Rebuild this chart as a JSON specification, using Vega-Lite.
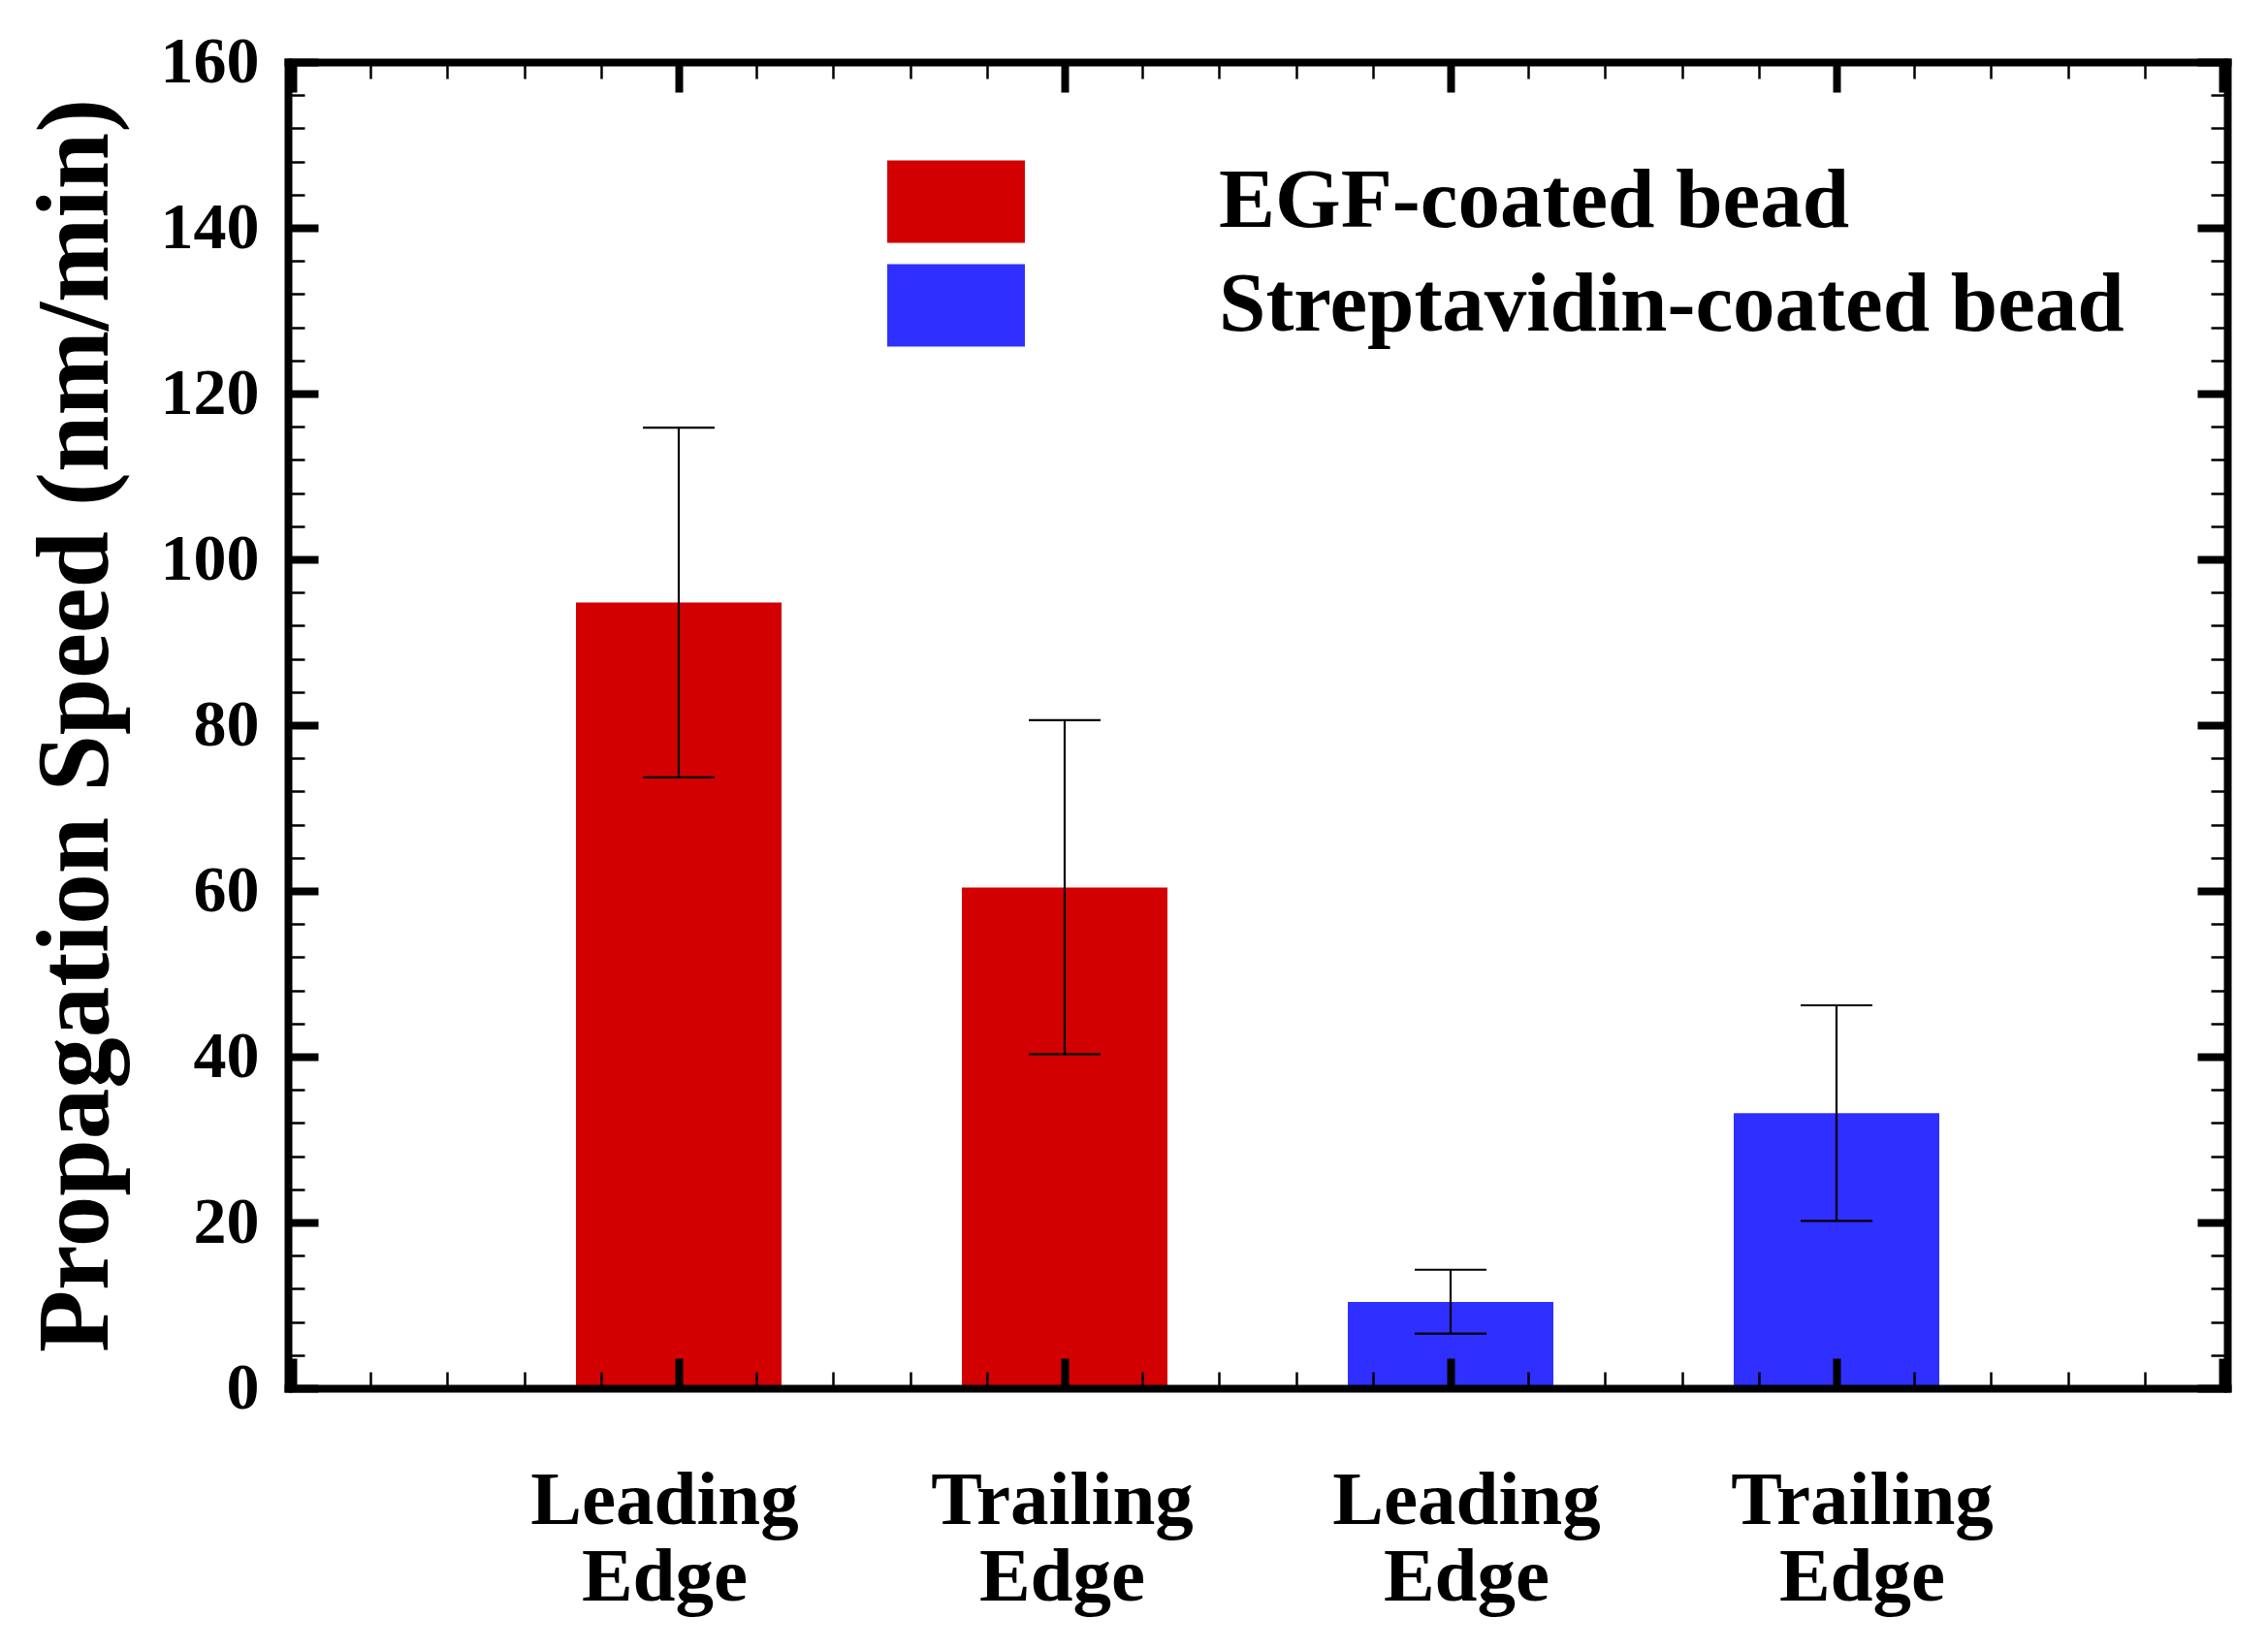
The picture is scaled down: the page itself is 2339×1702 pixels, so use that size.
{
  "$schema": "https://vega.github.io/schema/vega-lite/v6.json",
  "autosize": {"type": "none"},
  "padding": {"left": 297, "top": 64, "right": 42, "bottom": 270},
  "width": 2000,
  "height": 1368,
  "background": "white",
  "config": {"view": {"stroke": null}},
  "data": {"values": [
    {"group": "EGF-coated bead", "edge": "Leading Edge", "pos": 1, "speed": 94.8, "low": 73.7, "high": 115.9},
    {"group": "EGF-coated bead", "edge": "Trailing Edge", "pos": 2, "speed": 60.4, "low": 40.3, "high": 80.6},
    {"group": "Streptavidin-coated bead", "edge": "Leading Edge", "pos": 3, "speed": 10.4, "low": 6.6, "high": 14.3},
    {"group": "Streptavidin-coated bead", "edge": "Trailing Edge", "pos": 4, "speed": 33.2, "low": 20.2, "high": 46.2}
  ]},
  "resolve": {"axis": {"x": "independent", "y": "independent"}},
  "layer": [
    {
      "mark": {"type": "bar", "size": 212},
      "encoding": {
        "x": {"field": "pos", "type": "quantitative", "scale": {"domain": [0, 5], "nice": false, "zero": false},
          "axis": {"orient": "bottom", "values": [1, 2, 3, 4], "title": null, "ticks": false, "grid": false,
            "domain": true, "domainColor": "black", "domainWidth": 8, "domainCap": "square",
            "labelExpr": "datum.value == 1 || datum.value == 3 ? ['Leading', 'Edge'] : ['Trailing', 'Edge']",
            "labelFont": "Liberation Serif", "labelFontWeight": "bold", "labelFontSize": 79, "labelLineHeight": 79,
            "labelColor": "black", "labelBaseline": "top", "labelPadding": 77, "labelFlush": false, "labelOverlap": false, "labelBound": false, "labelLimit": 0,
            "labelOffset": {"condition": [
              {"test": "datum.value == 1", "value": -15},
              {"test": "datum.value == 2", "value": -3},
              {"test": "datum.value == 3", "value": 16}
            ], "value": 26},
            "zindex": 1}},
        "y": {"field": "speed", "type": "quantitative", "scale": {"domain": [0, 160], "nice": false, "zero": true},
          "axis": {"orient": "left", "values": [0, 20, 40, 60, 80, 100, 120, 140, 160], "title": "Propagation Speed (nm/min)",
            "ticks": false, "grid": false, "domain": true, "domainColor": "black", "domainWidth": 8, "domainCap": "square",
            "labelFont": "Liberation Serif", "labelFontWeight": "bold", "labelFontSize": 68, "labelColor": "black",
            "labelPadding": 30, "labelFlush": false, "labelOverlap": false, "labelBaseline": "middle",
            "titleFont": "Liberation Serif", "titleFontWeight": "bold", "titleFontSize": 105, "titleColor": "black", "titlePadding": 33, "zindex": 1}},
        "color": {"field": "group", "type": "nominal",
          "scale": {"domain": ["EGF-coated bead", "Streptavidin-coated bead"], "range": ["#D20000", "#2F2FFF"]},
          "legend": {"orient": "none", "legendX": 625, "legendY": 80, "title": null, "padding": 0,
            "symbolType": "M-1.109,-0.664H1.109V0.664H-1.109Z", "symbolSize": 16384, "symbolStrokeWidth": 0, "symbolOpacity": 1,
            "labelFont": "Liberation Serif", "labelFontSize": 87, "labelFontWeight": "bold", "labelColor": "black",
            "labelOffset": 207, "rowPadding": 0, "labelLimit": 2000}}
      }
    },
    {
      "mark": {"type": "rule", "strokeWidth": 2.2, "color": "black"},
      "encoding": {
        "x": {"field": "pos", "type": "quantitative", "scale": {"domain": [0, 5], "nice": false, "zero": false},
          "axis": {"orient": "bottom", "values": [0, 0.2, 0.4, 0.6, 0.8, 1, 1.2, 1.4, 1.6, 1.8, 2, 2.2, 2.4, 2.6, 2.8, 3, 3.2, 3.4, 3.6, 3.8, 4, 4.2, 4.4, 4.6, 4.8, 5],
            "title": null, "labels": false, "domain": false, "grid": false, "ticks": true, "tickColor": "black",
            "tickSize": {"condition": {"test": "abs(datum.value - round(datum.value)) < 0.001", "value": -31}, "value": -17},
            "tickWidth": {"condition": {"test": "abs(datum.value - round(datum.value)) < 0.001", "value": 8}, "value": 2.5}, "zindex": 1}},
        "y": {"field": "low", "type": "quantitative", "scale": {"domain": [0, 160], "nice": false, "zero": true},
          "axis": {"orient": "left", "values": [0, 4, 8, 12, 16, 20, 24, 28, 32, 36, 40, 44, 48, 52, 56, 60, 64, 68, 72, 76, 80, 84, 88, 92, 96, 100, 104, 108, 112, 116, 120, 124, 128, 132, 136, 140, 144, 148, 152, 156, 160],
            "title": null, "labels": false, "domain": false, "grid": false, "ticks": true, "tickColor": "black",
            "tickSize": {"condition": {"test": "datum.value % 20 == 0", "value": -31}, "value": -17},
            "tickWidth": {"condition": {"test": "datum.value % 20 == 0", "value": 8}, "value": 2.5}, "zindex": 1}},
        "y2": {"field": "high"}
      }
    },
    {
      "mark": {"type": "tick", "orient": "horizontal", "size": 74, "thickness": 2.2, "color": "black", "opacity": 1},
      "encoding": {
        "x": {"field": "pos", "type": "quantitative", "scale": {"domain": [0, 5], "nice": false, "zero": false},
          "axis": {"orient": "top", "values": [0, 0.2, 0.4, 0.6, 0.8, 1, 1.2, 1.4, 1.6, 1.8, 2, 2.2, 2.4, 2.6, 2.8, 3, 3.2, 3.4, 3.6, 3.8, 4, 4.2, 4.4, 4.6, 4.8, 5],
            "title": null, "labels": false, "domain": true, "domainColor": "black", "domainWidth": 8, "domainCap": "square", "grid": false, "ticks": true, "tickColor": "black",
            "tickSize": {"condition": {"test": "abs(datum.value - round(datum.value)) < 0.001", "value": -31}, "value": -17},
            "tickWidth": {"condition": {"test": "abs(datum.value - round(datum.value)) < 0.001", "value": 8}, "value": 2.5}, "zindex": 1}},
        "y": {"field": "high", "type": "quantitative", "scale": {"domain": [0, 160], "nice": false, "zero": true},
          "axis": {"orient": "right", "values": [0, 4, 8, 12, 16, 20, 24, 28, 32, 36, 40, 44, 48, 52, 56, 60, 64, 68, 72, 76, 80, 84, 88, 92, 96, 100, 104, 108, 112, 116, 120, 124, 128, 132, 136, 140, 144, 148, 152, 156, 160],
            "title": null, "labels": false, "domain": true, "domainColor": "black", "domainWidth": 8, "domainCap": "square", "grid": false, "ticks": true, "tickColor": "black",
            "tickSize": {"condition": {"test": "datum.value % 20 == 0", "value": -31}, "value": -17},
            "tickWidth": {"condition": {"test": "datum.value % 20 == 0", "value": 8}, "value": 2.5}, "zindex": 1}}
      }
    },
    {
      "mark": {"type": "tick", "orient": "horizontal", "size": 74, "thickness": 2.2, "color": "black", "opacity": 1},
      "encoding": {
        "x": {"field": "pos", "type": "quantitative", "scale": {"domain": [0, 5], "nice": false, "zero": false}, "axis": null},
        "y": {"field": "low", "type": "quantitative", "scale": {"domain": [0, 160], "nice": false, "zero": true}, "axis": null}
      }
    }
  ]
}
